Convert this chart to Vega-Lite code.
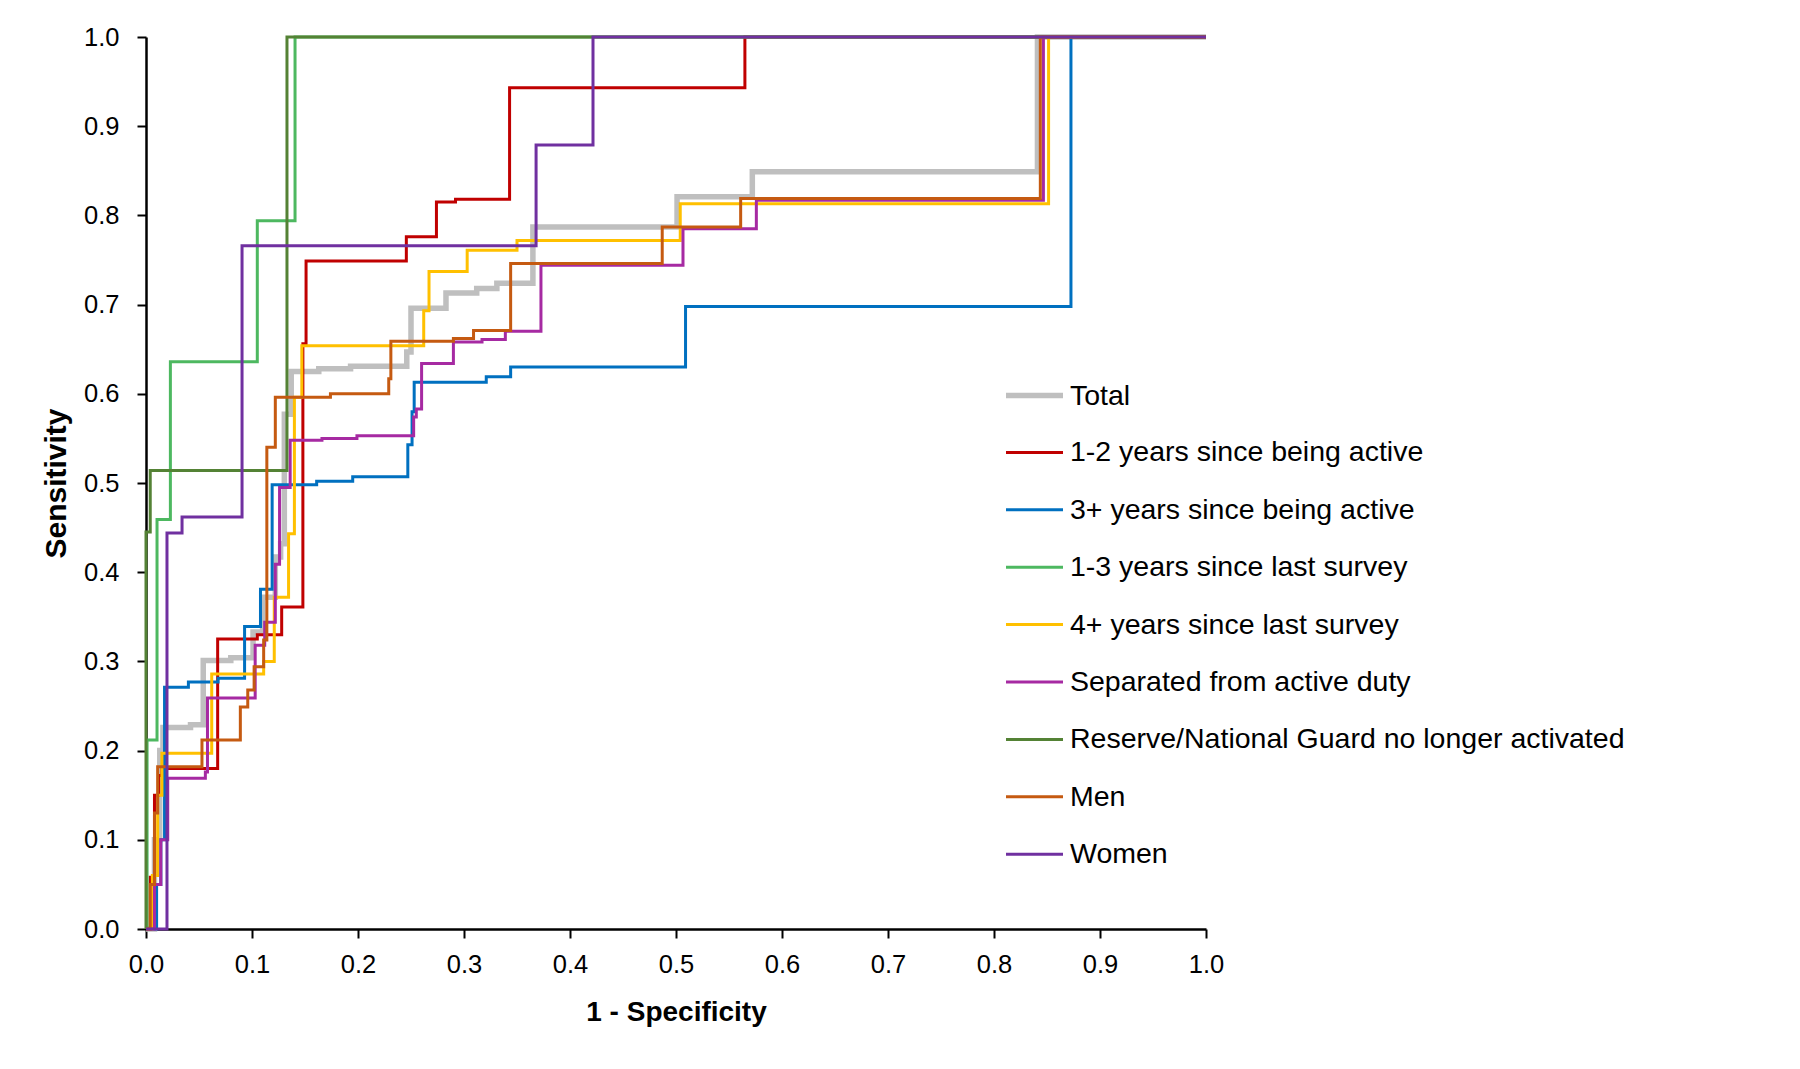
{
  "$schema": "https://vega.github.io/schema/vega-lite/v6.json",
  "autosize": "none",
  "padding": {"left": 146, "top": 37, "right": 594, "bottom": 140},
  "width": 1060,
  "height": 892,
  "background": "white",
  "config": {
    "view": {"stroke": null},
    "font": "Liberation Sans",
    "axis": {
      "labelFont": "Liberation Sans",
      "titleFont": "Liberation Sans",
      "labelFontSize": 25.5,
      "labelColor": "#000000",
      "labelFlush": false,
      "titleFontWeight": "bold",
      "titleColor": "#000000",
      "domainColor": "#000000",
      "domainWidth": 2.5,
      "tickColor": "#000000",
      "tickWidth": 2,
      "tickSize": 9,
      "grid": false
    },
    "legend": {
      "labelFont": "Liberation Sans",
      "labelFontSize": 28.5,
      "labelColor": "#000000",
      "labelLimit": 900
    }
  },
  "data": {
    "values": [
      {"series":"Total","i":0,"x":0,"y":0},
      {"series":"Total","i":1,"x":0.008,"y":0},
      {"series":"Total","i":2,"x":0.008,"y":0.1},
      {"series":"Total","i":3,"x":0.013,"y":0.1},
      {"series":"Total","i":4,"x":0.013,"y":0.2},
      {"series":"Total","i":5,"x":0.016,"y":0.2},
      {"series":"Total","i":6,"x":0.016,"y":0.226},
      {"series":"Total","i":7,"x":0.042,"y":0.226},
      {"series":"Total","i":8,"x":0.042,"y":0.229},
      {"series":"Total","i":9,"x":0.054,"y":0.229},
      {"series":"Total","i":10,"x":0.054,"y":0.301},
      {"series":"Total","i":11,"x":0.08,"y":0.301},
      {"series":"Total","i":12,"x":0.08,"y":0.304},
      {"series":"Total","i":13,"x":0.101,"y":0.304},
      {"series":"Total","i":14,"x":0.101,"y":0.333},
      {"series":"Total","i":15,"x":0.11,"y":0.333},
      {"series":"Total","i":16,"x":0.11,"y":0.372},
      {"series":"Total","i":17,"x":0.122,"y":0.372},
      {"series":"Total","i":18,"x":0.122,"y":0.417},
      {"series":"Total","i":19,"x":0.127,"y":0.417},
      {"series":"Total","i":20,"x":0.127,"y":0.432},
      {"series":"Total","i":21,"x":0.1305,"y":0.432},
      {"series":"Total","i":22,"x":0.1305,"y":0.577},
      {"series":"Total","i":23,"x":0.137,"y":0.577},
      {"series":"Total","i":24,"x":0.137,"y":0.625},
      {"series":"Total","i":25,"x":0.163,"y":0.625},
      {"series":"Total","i":26,"x":0.163,"y":0.628},
      {"series":"Total","i":27,"x":0.193,"y":0.628},
      {"series":"Total","i":28,"x":0.193,"y":0.631},
      {"series":"Total","i":29,"x":0.246,"y":0.631},
      {"series":"Total","i":30,"x":0.246,"y":0.647},
      {"series":"Total","i":31,"x":0.25,"y":0.647},
      {"series":"Total","i":32,"x":0.25,"y":0.696},
      {"series":"Total","i":33,"x":0.283,"y":0.696},
      {"series":"Total","i":34,"x":0.283,"y":0.713},
      {"series":"Total","i":35,"x":0.312,"y":0.713},
      {"series":"Total","i":36,"x":0.312,"y":0.718},
      {"series":"Total","i":37,"x":0.331,"y":0.718},
      {"series":"Total","i":38,"x":0.331,"y":0.724},
      {"series":"Total","i":39,"x":0.365,"y":0.724},
      {"series":"Total","i":40,"x":0.365,"y":0.787},
      {"series":"Total","i":41,"x":0.501,"y":0.787},
      {"series":"Total","i":42,"x":0.501,"y":0.821},
      {"series":"Total","i":43,"x":0.572,"y":0.821},
      {"series":"Total","i":44,"x":0.572,"y":0.849},
      {"series":"Total","i":45,"x":0.841,"y":0.849},
      {"series":"Total","i":46,"x":0.841,"y":1.0},
      {"series":"Total","i":47,"x":1.0,"y":1.0},

      {"series":"1-2 years since being active","i":0,"x":0,"y":0},
      {"series":"1-2 years since being active","i":1,"x":0.004,"y":0},
      {"series":"1-2 years since being active","i":2,"x":0.004,"y":0.058},
      {"series":"1-2 years since being active","i":3,"x":0.008,"y":0.058},
      {"series":"1-2 years since being active","i":4,"x":0.008,"y":0.15},
      {"series":"1-2 years since being active","i":5,"x":0.012,"y":0.15},
      {"series":"1-2 years since being active","i":6,"x":0.012,"y":0.172},
      {"series":"1-2 years since being active","i":7,"x":0.015,"y":0.172},
      {"series":"1-2 years since being active","i":8,"x":0.015,"y":0.18},
      {"series":"1-2 years since being active","i":9,"x":0.0676,"y":0.18},
      {"series":"1-2 years since being active","i":10,"x":0.0676,"y":0.325},
      {"series":"1-2 years since being active","i":11,"x":0.105,"y":0.325},
      {"series":"1-2 years since being active","i":12,"x":0.105,"y":0.33},
      {"series":"1-2 years since being active","i":13,"x":0.128,"y":0.33},
      {"series":"1-2 years since being active","i":14,"x":0.128,"y":0.361},
      {"series":"1-2 years since being active","i":15,"x":0.148,"y":0.361},
      {"series":"1-2 years since being active","i":16,"x":0.148,"y":0.656},
      {"series":"1-2 years since being active","i":17,"x":0.151,"y":0.656},
      {"series":"1-2 years since being active","i":18,"x":0.151,"y":0.749},
      {"series":"1-2 years since being active","i":19,"x":0.2456,"y":0.749},
      {"series":"1-2 years since being active","i":20,"x":0.2456,"y":0.776},
      {"series":"1-2 years since being active","i":21,"x":0.274,"y":0.776},
      {"series":"1-2 years since being active","i":22,"x":0.274,"y":0.815},
      {"series":"1-2 years since being active","i":23,"x":0.292,"y":0.815},
      {"series":"1-2 years since being active","i":24,"x":0.292,"y":0.818},
      {"series":"1-2 years since being active","i":25,"x":0.343,"y":0.818},
      {"series":"1-2 years since being active","i":26,"x":0.343,"y":0.943},
      {"series":"1-2 years since being active","i":27,"x":0.565,"y":0.943},
      {"series":"1-2 years since being active","i":28,"x":0.565,"y":1.0},
      {"series":"1-2 years since being active","i":29,"x":1.0,"y":1.0},

      {"series":"3+ years since being active","i":0,"x":0,"y":0},
      {"series":"3+ years since being active","i":1,"x":0.01,"y":0},
      {"series":"3+ years since being active","i":2,"x":0.01,"y":0.05},
      {"series":"3+ years since being active","i":3,"x":0.014,"y":0.05},
      {"series":"3+ years since being active","i":4,"x":0.014,"y":0.1},
      {"series":"3+ years since being active","i":5,"x":0.0175,"y":0.1},
      {"series":"3+ years since being active","i":6,"x":0.0175,"y":0.271},
      {"series":"3+ years since being active","i":7,"x":0.04,"y":0.271},
      {"series":"3+ years since being active","i":8,"x":0.04,"y":0.277},
      {"series":"3+ years since being active","i":9,"x":0.068,"y":0.277},
      {"series":"3+ years since being active","i":10,"x":0.068,"y":0.281},
      {"series":"3+ years since being active","i":11,"x":0.093,"y":0.281},
      {"series":"3+ years since being active","i":12,"x":0.093,"y":0.339},
      {"series":"3+ years since being active","i":13,"x":0.108,"y":0.339},
      {"series":"3+ years since being active","i":14,"x":0.108,"y":0.381},
      {"series":"3+ years since being active","i":15,"x":0.119,"y":0.381},
      {"series":"3+ years since being active","i":16,"x":0.119,"y":0.498},
      {"series":"3+ years since being active","i":17,"x":0.161,"y":0.498},
      {"series":"3+ years since being active","i":18,"x":0.161,"y":0.502},
      {"series":"3+ years since being active","i":19,"x":0.195,"y":0.502},
      {"series":"3+ years since being active","i":20,"x":0.195,"y":0.507},
      {"series":"3+ years since being active","i":21,"x":0.247,"y":0.507},
      {"series":"3+ years since being active","i":22,"x":0.247,"y":0.543},
      {"series":"3+ years since being active","i":23,"x":0.251,"y":0.543},
      {"series":"3+ years since being active","i":24,"x":0.251,"y":0.58},
      {"series":"3+ years since being active","i":25,"x":0.253,"y":0.58},
      {"series":"3+ years since being active","i":26,"x":0.253,"y":0.613},
      {"series":"3+ years since being active","i":27,"x":0.321,"y":0.613},
      {"series":"3+ years since being active","i":28,"x":0.321,"y":0.619},
      {"series":"3+ years since being active","i":29,"x":0.344,"y":0.619},
      {"series":"3+ years since being active","i":30,"x":0.344,"y":0.63},
      {"series":"3+ years since being active","i":31,"x":0.509,"y":0.63},
      {"series":"3+ years since being active","i":32,"x":0.509,"y":0.698},
      {"series":"3+ years since being active","i":33,"x":0.8726,"y":0.698},
      {"series":"3+ years since being active","i":34,"x":0.8726,"y":1.0},
      {"series":"3+ years since being active","i":35,"x":1.0,"y":1.0},

      {"series":"1-3 years since last survey","i":0,"x":0,"y":0},
      {"series":"1-3 years since last survey","i":1,"x":0.001,"y":0},
      {"series":"1-3 years since last survey","i":2,"x":0.001,"y":0.212},
      {"series":"1-3 years since last survey","i":3,"x":0.0104,"y":0.212},
      {"series":"1-3 years since last survey","i":4,"x":0.0104,"y":0.459},
      {"series":"1-3 years since last survey","i":5,"x":0.023,"y":0.459},
      {"series":"1-3 years since last survey","i":6,"x":0.023,"y":0.636},
      {"series":"1-3 years since last survey","i":7,"x":0.105,"y":0.636},
      {"series":"1-3 years since last survey","i":8,"x":0.105,"y":0.794},
      {"series":"1-3 years since last survey","i":9,"x":0.1406,"y":0.794},
      {"series":"1-3 years since last survey","i":10,"x":0.1406,"y":1.0},
      {"series":"1-3 years since last survey","i":11,"x":1.0,"y":1.0},

      {"series":"4+ years since last survey","i":0,"x":0,"y":0},
      {"series":"4+ years since last survey","i":1,"x":0.006,"y":0},
      {"series":"4+ years since last survey","i":2,"x":0.006,"y":0.06},
      {"series":"4+ years since last survey","i":3,"x":0.011,"y":0.06},
      {"series":"4+ years since last survey","i":4,"x":0.011,"y":0.15},
      {"series":"4+ years since last survey","i":5,"x":0.015,"y":0.15},
      {"series":"4+ years since last survey","i":6,"x":0.015,"y":0.197},
      {"series":"4+ years since last survey","i":7,"x":0.062,"y":0.197},
      {"series":"4+ years since last survey","i":8,"x":0.062,"y":0.286},
      {"series":"4+ years since last survey","i":9,"x":0.111,"y":0.286},
      {"series":"4+ years since last survey","i":10,"x":0.111,"y":0.3},
      {"series":"4+ years since last survey","i":11,"x":0.121,"y":0.3},
      {"series":"4+ years since last survey","i":12,"x":0.121,"y":0.372},
      {"series":"4+ years since last survey","i":13,"x":0.1345,"y":0.372},
      {"series":"4+ years since last survey","i":14,"x":0.1345,"y":0.443},
      {"series":"4+ years since last survey","i":15,"x":0.14,"y":0.443},
      {"series":"4+ years since last survey","i":16,"x":0.14,"y":0.596},
      {"series":"4+ years since last survey","i":17,"x":0.147,"y":0.596},
      {"series":"4+ years since last survey","i":18,"x":0.147,"y":0.654},
      {"series":"4+ years since last survey","i":19,"x":0.262,"y":0.654},
      {"series":"4+ years since last survey","i":20,"x":0.262,"y":0.693},
      {"series":"4+ years since last survey","i":21,"x":0.267,"y":0.693},
      {"series":"4+ years since last survey","i":22,"x":0.267,"y":0.737},
      {"series":"4+ years since last survey","i":23,"x":0.303,"y":0.737},
      {"series":"4+ years since last survey","i":24,"x":0.303,"y":0.761},
      {"series":"4+ years since last survey","i":25,"x":0.35,"y":0.761},
      {"series":"4+ years since last survey","i":26,"x":0.35,"y":0.772},
      {"series":"4+ years since last survey","i":27,"x":0.504,"y":0.772},
      {"series":"4+ years since last survey","i":28,"x":0.504,"y":0.813},
      {"series":"4+ years since last survey","i":29,"x":0.8515,"y":0.813},
      {"series":"4+ years since last survey","i":30,"x":0.8515,"y":1.0},
      {"series":"4+ years since last survey","i":31,"x":1.0,"y":1.0},

      {"series":"Separated from active duty","i":0,"x":0,"y":0},
      {"series":"Separated from active duty","i":1,"x":0.008,"y":0},
      {"series":"Separated from active duty","i":2,"x":0.008,"y":0.05},
      {"series":"Separated from active duty","i":3,"x":0.014,"y":0.05},
      {"series":"Separated from active duty","i":4,"x":0.014,"y":0.1},
      {"series":"Separated from active duty","i":5,"x":0.0205,"y":0.1},
      {"series":"Separated from active duty","i":6,"x":0.0205,"y":0.169},
      {"series":"Separated from active duty","i":7,"x":0.056,"y":0.169},
      {"series":"Separated from active duty","i":8,"x":0.056,"y":0.176},
      {"series":"Separated from active duty","i":9,"x":0.058,"y":0.176},
      {"series":"Separated from active duty","i":10,"x":0.058,"y":0.259},
      {"series":"Separated from active duty","i":11,"x":0.103,"y":0.259},
      {"series":"Separated from active duty","i":12,"x":0.103,"y":0.318},
      {"series":"Separated from active duty","i":13,"x":0.112,"y":0.318},
      {"series":"Separated from active duty","i":14,"x":0.112,"y":0.344},
      {"series":"Separated from active duty","i":15,"x":0.122,"y":0.344},
      {"series":"Separated from active duty","i":16,"x":0.122,"y":0.409},
      {"series":"Separated from active duty","i":17,"x":0.126,"y":0.409},
      {"series":"Separated from active duty","i":18,"x":0.126,"y":0.495},
      {"series":"Separated from active duty","i":19,"x":0.136,"y":0.495},
      {"series":"Separated from active duty","i":20,"x":0.136,"y":0.548},
      {"series":"Separated from active duty","i":21,"x":0.166,"y":0.548},
      {"series":"Separated from active duty","i":22,"x":0.166,"y":0.55},
      {"series":"Separated from active duty","i":23,"x":0.199,"y":0.55},
      {"series":"Separated from active duty","i":24,"x":0.199,"y":0.553},
      {"series":"Separated from active duty","i":25,"x":0.2525,"y":0.553},
      {"series":"Separated from active duty","i":26,"x":0.2525,"y":0.574},
      {"series":"Separated from active duty","i":27,"x":0.255,"y":0.574},
      {"series":"Separated from active duty","i":28,"x":0.255,"y":0.583},
      {"series":"Separated from active duty","i":29,"x":0.26,"y":0.583},
      {"series":"Separated from active duty","i":30,"x":0.26,"y":0.634},
      {"series":"Separated from active duty","i":31,"x":0.29,"y":0.634},
      {"series":"Separated from active duty","i":32,"x":0.29,"y":0.658},
      {"series":"Separated from active duty","i":33,"x":0.317,"y":0.658},
      {"series":"Separated from active duty","i":34,"x":0.317,"y":0.661},
      {"series":"Separated from active duty","i":35,"x":0.339,"y":0.661},
      {"series":"Separated from active duty","i":36,"x":0.339,"y":0.67},
      {"series":"Separated from active duty","i":37,"x":0.3726,"y":0.67},
      {"series":"Separated from active duty","i":38,"x":0.3726,"y":0.744},
      {"series":"Separated from active duty","i":39,"x":0.5066,"y":0.744},
      {"series":"Separated from active duty","i":40,"x":0.5066,"y":0.785},
      {"series":"Separated from active duty","i":41,"x":0.5758,"y":0.785},
      {"series":"Separated from active duty","i":42,"x":0.5758,"y":0.817},
      {"series":"Separated from active duty","i":43,"x":0.8466,"y":0.817},
      {"series":"Separated from active duty","i":44,"x":0.8466,"y":1.0},
      {"series":"Separated from active duty","i":45,"x":1.0,"y":1.0},

      {"series":"Reserve/National Guard no longer activated","i":0,"x":0,"y":0},
      {"series":"Reserve/National Guard no longer activated","i":1,"x":0,"y":0.445},
      {"series":"Reserve/National Guard no longer activated","i":2,"x":0.004,"y":0.445},
      {"series":"Reserve/National Guard no longer activated","i":3,"x":0.004,"y":0.514},
      {"series":"Reserve/National Guard no longer activated","i":4,"x":0.133,"y":0.514},
      {"series":"Reserve/National Guard no longer activated","i":5,"x":0.133,"y":1.0},
      {"series":"Reserve/National Guard no longer activated","i":6,"x":1.0,"y":1.0},

      {"series":"Men","i":0,"x":0,"y":0},
      {"series":"Men","i":1,"x":0.004,"y":0},
      {"series":"Men","i":2,"x":0.004,"y":0.05},
      {"series":"Men","i":3,"x":0.008,"y":0.05},
      {"series":"Men","i":4,"x":0.008,"y":0.13},
      {"series":"Men","i":5,"x":0.011,"y":0.13},
      {"series":"Men","i":6,"x":0.011,"y":0.182},
      {"series":"Men","i":7,"x":0.0528,"y":0.182},
      {"series":"Men","i":8,"x":0.0528,"y":0.212},
      {"series":"Men","i":9,"x":0.089,"y":0.212},
      {"series":"Men","i":10,"x":0.089,"y":0.249},
      {"series":"Men","i":11,"x":0.096,"y":0.249},
      {"series":"Men","i":12,"x":0.096,"y":0.268},
      {"series":"Men","i":13,"x":0.102,"y":0.268},
      {"series":"Men","i":14,"x":0.102,"y":0.294},
      {"series":"Men","i":15,"x":0.111,"y":0.294},
      {"series":"Men","i":16,"x":0.111,"y":0.324},
      {"series":"Men","i":17,"x":0.114,"y":0.324},
      {"series":"Men","i":18,"x":0.114,"y":0.54},
      {"series":"Men","i":19,"x":0.122,"y":0.54},
      {"series":"Men","i":20,"x":0.122,"y":0.596},
      {"series":"Men","i":21,"x":0.174,"y":0.596},
      {"series":"Men","i":22,"x":0.174,"y":0.6},
      {"series":"Men","i":23,"x":0.229,"y":0.6},
      {"series":"Men","i":24,"x":0.229,"y":0.617},
      {"series":"Men","i":25,"x":0.231,"y":0.617},
      {"series":"Men","i":26,"x":0.231,"y":0.659},
      {"series":"Men","i":27,"x":0.29,"y":0.659},
      {"series":"Men","i":28,"x":0.29,"y":0.662},
      {"series":"Men","i":29,"x":0.309,"y":0.662},
      {"series":"Men","i":30,"x":0.309,"y":0.671},
      {"series":"Men","i":31,"x":0.344,"y":0.671},
      {"series":"Men","i":32,"x":0.344,"y":0.746},
      {"series":"Men","i":33,"x":0.487,"y":0.746},
      {"series":"Men","i":34,"x":0.487,"y":0.787},
      {"series":"Men","i":35,"x":0.561,"y":0.787},
      {"series":"Men","i":36,"x":0.561,"y":0.819},
      {"series":"Men","i":37,"x":0.8437,"y":0.819},
      {"series":"Men","i":38,"x":0.8437,"y":1.0},
      {"series":"Men","i":39,"x":1.0,"y":1.0},

      {"series":"Women","i":0,"x":0,"y":0},
      {"series":"Women","i":1,"x":0.0198,"y":0},
      {"series":"Women","i":2,"x":0.0198,"y":0.444},
      {"series":"Women","i":3,"x":0.034,"y":0.444},
      {"series":"Women","i":4,"x":0.034,"y":0.462},
      {"series":"Women","i":5,"x":0.0906,"y":0.462},
      {"series":"Women","i":6,"x":0.0906,"y":0.766},
      {"series":"Women","i":7,"x":0.368,"y":0.766},
      {"series":"Women","i":8,"x":0.368,"y":0.879},
      {"series":"Women","i":9,"x":0.4217,"y":0.879},
      {"series":"Women","i":10,"x":0.4217,"y":1.0},
      {"series":"Women","i":11,"x":1.0,"y":1.0}
    ]
  },
  "mark": {"type": "line", "clip": false, "strokeJoin": "miter"},
  "encoding": {
    "x": {
      "field": "x", "type": "quantitative",
      "scale": {"domain": [0, 1], "nice": false, "zero": false},
      "axis": {"title": "1 - Specificity", "titleFontSize": 28, "values": [0,0.1,0.2,0.3,0.4,0.5,0.6,0.7,0.8,0.9,1.0], "format": ".1f", "labelPadding": 14, "titlePadding": 21}
    },
    "y": {
      "field": "y", "type": "quantitative",
      "scale": {"domain": [0, 1], "nice": false, "zero": false},
      "axis": {"title": "Sensitivity", "titleFontSize": 30, "values": [0,0.1,0.2,0.3,0.4,0.5,0.6,0.7,0.8,0.9,1.0], "format": ".1f", "labelPadding": 18, "titlePadding": 12}
    },
    "order": {"field": "i", "type": "quantitative"},
    "color": {
      "field": "series", "type": "nominal",
      "scale": {
        "domain": ["Total","1-2 years since being active","3+ years since being active","1-3 years since last survey","4+ years since last survey","Separated from active duty","Reserve/National Guard no longer activated","Men","Women"],
        "range": ["#BFBFBF","#C00000","#0070C0","#4DB860","#FFC000","#A62AA2","#548235","#C55A11","#7030A0"]
      },
      "legend": {
        "title": null, "orient": "none", "legendX": 857, "legendY": 327,
        "symbolType": "stroke", "symbolSize": 3249, "symbolStrokeWidth": 3,
        "labelOffset": 4, "rowPadding": 12.4, "padding": 0, "labelLimit": 900
      }
    },
    "strokeWidth": {
      "field": "series", "type": "nominal",
      "scale": {
        "type": "ordinal",
        "domain": ["Total","1-2 years since being active","3+ years since being active","1-3 years since last survey","4+ years since last survey","Separated from active duty","Reserve/National Guard no longer activated","Men","Women"],
        "range": [5.5,3,3,3,3,3,3,3,3]
      },
      "legend": {
        "title": null, "orient": "none", "legendX": 857, "legendY": 327,
        "symbolType": "stroke", "symbolSize": 3249,
        "labelOffset": 4, "rowPadding": 12.4, "padding": 0, "labelLimit": 900
      }
    }
  }
}
